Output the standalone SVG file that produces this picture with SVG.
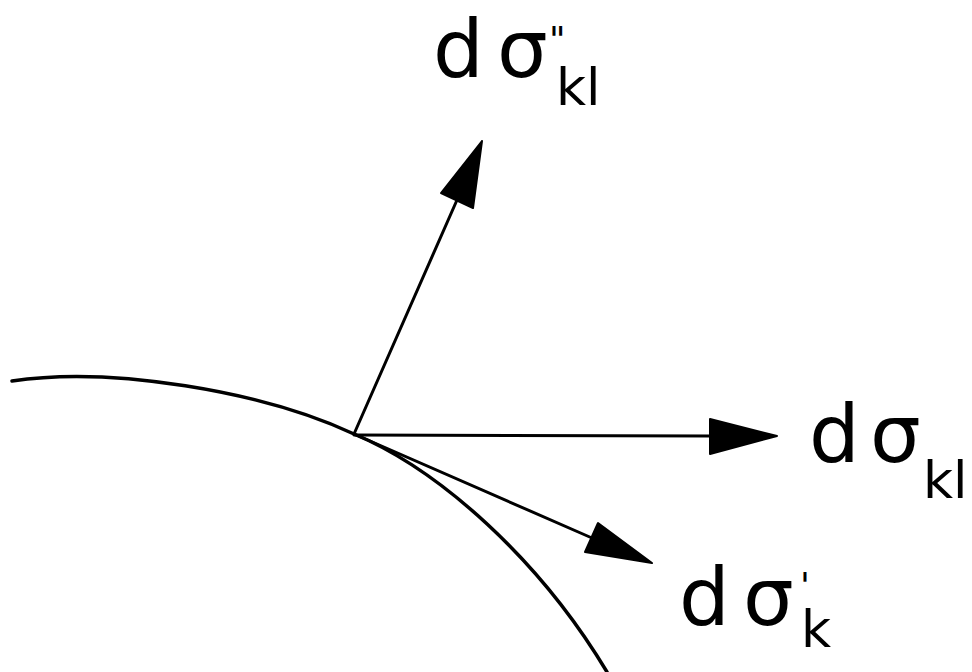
<svg xmlns="http://www.w3.org/2000/svg" width="972" height="672" viewBox="0 0 972 672">
<style>
.ln{fill:none;stroke:#000;stroke-width:3;stroke-linecap:round}
.curve{fill:none;stroke:#000;stroke-width:3.5;stroke-linecap:round}
.head{fill:#000;stroke:#000;stroke-width:2;stroke-linejoin:round}
.lbl{font-family:"DejaVu Sans","Liberation Sans",sans-serif;fill:#000}
.big{font-size:80px}
.sub{font-size:52px}
.mark{font-size:36px}
</style>
<rect width="972" height="672" fill="#fff"/>
<g id="surface">
<path class="curve" d="M12,381 C110,366 262,391 354,434 C440,470 540,560 607,672"/>
</g>
<g id="connectors">
<line class="ln" x1="354" y1="434" x2="457" y2="200"/>
<polygon class="head" points="482,141 441,193 473,208"/>
<line class="ln" x1="354" y1="435" x2="712" y2="436"/>
<polygon class="head" points="777,436 710,419 710,454"/>
<line class="ln" x1="354" y1="434" x2="592" y2="538"/>
<polygon class="head" points="652,563 598,523 585,552"/>
</g>
<g id="label-normal">
<text class="lbl"><tspan class="big" x="433" y="77">d</tspan><tspan class="big" x="497" y="77">σ</tspan><tspan class="mark" x="549" y="52">"</tspan><tspan class="sub" x="556" y="105">kl</tspan></text>
</g>
<g id="label-horizontal">
<text class="lbl"><tspan class="big" x="809" y="462">d</tspan><tspan class="big" x="870" y="462">σ</tspan><tspan class="sub" x="923" y="498">kl</tspan></text>
</g>
<g id="label-tangent">
<text class="lbl"><tspan class="big" x="679" y="625">d</tspan><tspan class="big" x="743" y="625">σ</tspan><tspan class="mark" x="800" y="598">'</tspan><tspan class="sub" x="801" y="647">k</tspan></text>
</g>
</svg>
